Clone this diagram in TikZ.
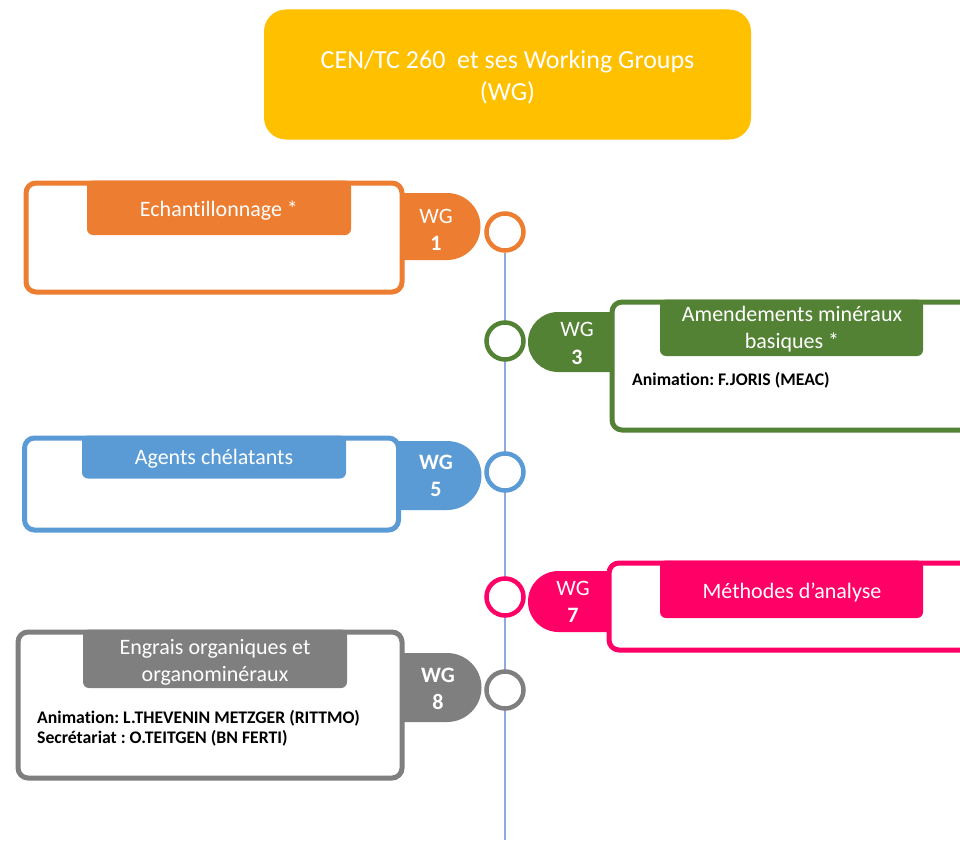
\documentclass[tikz,border=0pt]{standalone}
\usepackage{fontspec}
\setmainfont{Carlito}[Ligatures={NoCommon}]
\pgfdeclarelayer{bg}
\pgfsetlayers{bg,main}
\definecolor{cOrange}{HTML}{ED7D31}
\definecolor{cGreen}{HTML}{548235}
\definecolor{cBlue}{HTML}{5B9BD5}
\definecolor{cPink}{HTML}{FF0066}
\definecolor{cGray}{HTML}{7F7F7F}
\definecolor{cGold}{HTML}{FFC000}
\definecolor{cLine}{HTML}{8FAADC}
\begin{document}
\frenchspacing
\begin{tikzpicture}[x=1pt,y=-1pt,
  outerbox/.style={line width=5pt, rounded corners=10pt, fill=white, anchor=north west, inner sep=0pt, outer sep=0pt},
  tabtext/.style={text=white, font=\fontsize{22}{27}\selectfont, align=center, inner sep=0pt},
  wgtext/.style={text=white, font=\fontsize{22}{27.5}\selectfont, align=center, inner sep=0pt},
  hub/.style={circle, line width=4.5pt, fill=white, minimum size=37pt, inner sep=0pt},
  info/.style={font=\bfseries\fontsize{17.7}{20}\selectfont, align=left, anchor=west, inner sep=0pt, text=black}
]
\useasboundingbox (0,0) rectangle (960,840);

% title
\node[fill=cGold, rounded corners=22pt, minimum width=487pt, minimum height=130pt, inner sep=0pt] (title) at (507.5,74.5) {};
\node[text=white, font=\fontsize{26}{32}\selectfont, align=center, inner sep=0pt] (titletext) at (507.5,77.5)
  {CEN/TC 260~~et ses Working Groups\\(WG)};

% ---------- WG1 (orange)
\fill[cOrange] (395,193) -- (447,193) arc[start angle=90, end angle=-90, radius=33.5pt] -- (395,260) -- cycle;
\node[outerbox, draw=cOrange, minimum width=376pt, minimum height=109pt] (b1) at (26,183) {};
\fill[cOrange, rounded corners=6pt] (87,180.5) rectangle (351,235);
\fill[cOrange] (87,180.5) rectangle (351,200);
\node[tabtext] (t1) at (219,211) {Echantillonnage *};
\node[wgtext] (w1) at (436,230) {WG\\\textbf{1}};
\node[hub, draw=cOrange] (c1) at (505,232) {};

% ---------- WG3 (green)
\fill[cGreen] (618,312) -- (558,312) arc[start angle=90, end angle=270, radius=30pt] -- (618,372) -- cycle;
\node[outerbox, draw=cGreen, minimum width=400pt, minimum height=128pt] (b3) at (612,302) {};
\fill[cGreen, rounded corners=6pt] (660,299.5) rectangle (923,356);
\fill[cGreen] (660,299.5) rectangle (923,320);
\node[tabtext] (t3) at (792,329.5) {Amendements minéraux\\basiques *};
\node[wgtext] (w3) at (577,343.5) {WG\\\textbf{3}};
\node[info] (i3) at (632,380) {Animation: F.JORIS (MEAC)};
\node[hub, draw=cGreen] (c3) at (505,341) {};

% ---------- WG5 (blue)
\fill[cBlue] (395,441) -- (447,441) arc[start angle=90, end angle=-90, radius=34.5pt] -- (395,510) -- cycle;
\node[outerbox, draw=cBlue, minimum width=374pt, minimum height=92pt] (b5) at (24.5,438) {};
\fill[cBlue, rounded corners=6pt] (82,435.5) rectangle (346,478.5);
\fill[cBlue] (82,435.5) rectangle (346,455);
\node[tabtext] (t5) at (214,459) {Agents chélatants};
\node[wgtext] (w5) at (436,476) {\textbf{WG}\\\textbf{5}};
\node[hub, draw=cBlue] (c5) at (505,472) {};

% ---------- WG7 (pink)
\fill[cPink] (615,571) -- (558.5,571) arc[start angle=90, end angle=270, radius=30.5pt] -- (615,632) -- cycle;
\node[outerbox, draw=cPink, minimum width=400pt, minimum height=87pt] (b7) at (609,563) {};
\fill[cPink, rounded corners=6pt] (660,560.5) rectangle (923,618);
\fill[cPink] (660,560.5) rectangle (923,580);
\node[tabtext] (t7) at (792,593) {Méthodes d’analyse};
\node[wgtext] (w7) at (573,602) {WG\\\textbf{7}};
\node[hub, draw=cPink] (c7) at (505,597) {};

% ---------- WG8 (gray)
\fill[cGray] (395,653) -- (447,653) arc[start angle=90, end angle=-90, radius=34.5pt] -- (395,722) -- cycle;
\node[outerbox, draw=cGray, minimum width=384pt, minimum height=146pt] (b8) at (18,632) {};
\fill[cGray, rounded corners=6pt] (83,629.5) rectangle (347,688);
\fill[cGray] (83,629.5) rectangle (347,650);
\node[tabtext] (t8) at (215,662) {Engrais organiques et\\organominéraux};
\node[wgtext] (w8) at (438,689) {\textbf{WG}\\\textbf{8}};
\node[info] (i8) at (37,728.5) {Animation: L.THEVENIN METZGER (RITTMO)\\Secrétariat : O.TEITGEN (BN FERTI)};
\node[hub, draw=cGray] (c8) at (505,690) {};

% spine
\coordinate (spineEnd) at (505,840);
\begin{pgfonlayer}{bg}
\fill[white] (0,0) rectangle (960,840);
\draw[cLine, line width=1.3pt] (c1.south) -- (spineEnd);
\end{pgfonlayer}
\end{tikzpicture}
\end{document}
